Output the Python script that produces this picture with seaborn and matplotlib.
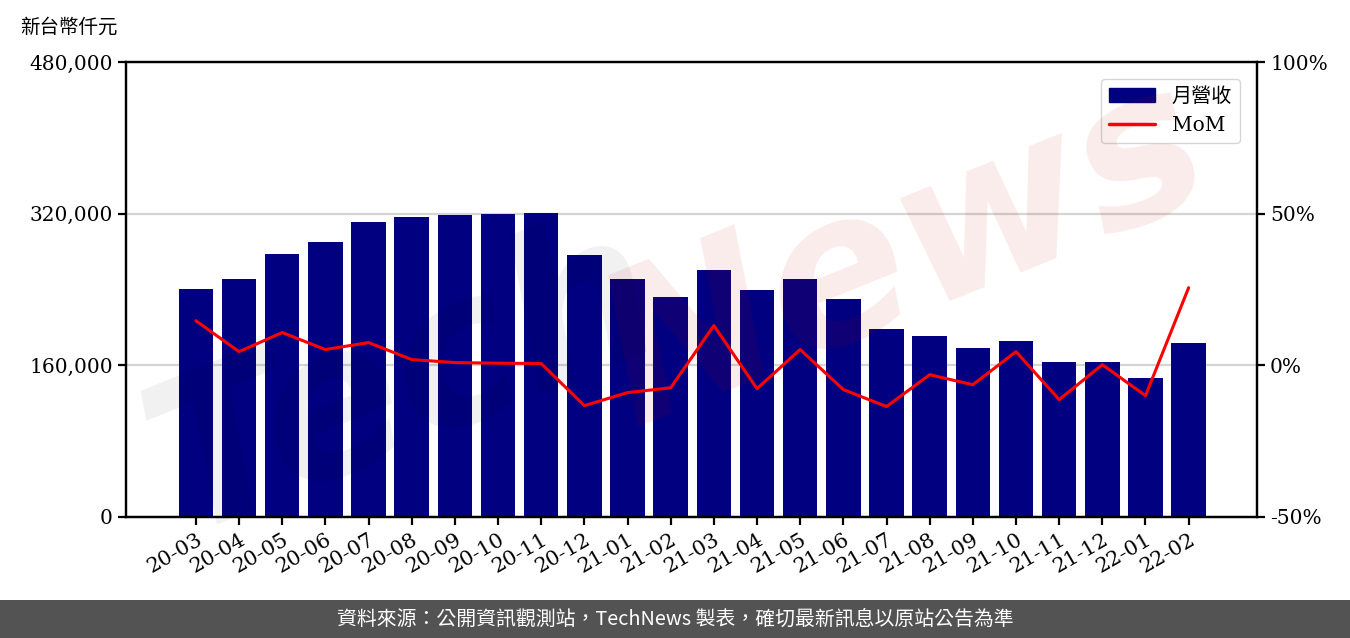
import numpy as np
import pandas as pd
import matplotlib
matplotlib.use("Agg")
import matplotlib.pyplot as plt
import seaborn as sns
from matplotlib.patches import Rectangle
from matplotlib.ticker import FuncFormatter, FixedLocator

# data
months = ['20-03', '20-04', '20-05', '20-06', '20-07', '20-08', '20-09', '20-10',
          '20-11', '20-12', '21-01', '21-02', '21-03', '21-04', '21-05', '21-06',
          '21-07', '21-08', '21-09', '21-10', '21-11', '21-12', '22-01', '22-02']
revenue = [240500, 251000, 277400, 290100, 311200, 316500, 318600, 319600,
           320700, 276400, 251000, 232100, 260600, 239500, 251000, 230000,
           198300, 190900, 178300, 185700, 163500, 163500, 146600, 183600]
mom = [14.7, 4.5, 10.8, 5.2, 7.5, 1.9, 0.9, 0.7,
       0.6, -13.3, -9.0, -7.4, 13.1, -7.7, 5.2, -8.0,
       -13.6, -3.1, -6.4, 4.5, -11.3, 0.2, -10.0, 25.6]

df = pd.DataFrame({'month': months, 'revenue': revenue, 'mom': mom})
df['pos'] = np.arange(len(df))

sns.set_style("white", {'axes.edgecolor': 'black', 'xtick.color': 'black',
                        'ytick.color': 'black', 'text.color': 'black',
                        'axes.labelcolor': 'black'})
plt.rcParams['font.family'] = ['DejaVu Serif', 'Noto Sans CJK TC']
plt.rcParams['axes.linewidth'] = 1.6

fig = plt.figure(figsize=(13.5, 6.38), dpi=100)
ax = fig.add_axes([0.0933, 0.1897, 0.8377, 0.7131])

sns.barplot(data=df, x='month', y='revenue', color='#000080', saturation=1,
            width=0.8, ax=ax, zorder=2, edgecolor='none')
ax.set_xlim(-1.62, 24.58)
ax.set_ylim(0, 480000)
ax.yaxis.set_major_locator(FixedLocator([0, 160000, 320000, 480000]))
ax.yaxis.set_major_formatter(FuncFormatter(lambda v, p: f'{int(v):,}'))
ax.grid(axis='y', color='#d4d4d4', linewidth=1.6, zorder=0)
ax.set_axisbelow(True)
ax.set_xlabel('')
ax.set_ylabel('')
ax.tick_params(axis='y', direction='out', length=6, width=1.6, labelsize=14.5,
               left=True, colors='black')
ax.tick_params(axis='x', direction='out', length=6, width=1.6, labelsize=15,
               bottom=True, colors='black')
for lab in ax.get_xticklabels():
    lab.set_rotation(30)
    lab.set_ha('right')
    lab.set_rotation_mode('anchor')

ax2 = ax.twinx()
sns.lineplot(data=df, x='pos', y='mom', color='red', linewidth=2.2, ax=ax2, zorder=3)
ax2.set_ylim(-50, 100)
ax2.yaxis.set_major_locator(FixedLocator([-50, 0, 50, 100]))
ax2.yaxis.set_major_formatter(FuncFormatter(lambda v, p: f'{int(v)}%'))
ax2.set_ylabel('')
ax2.tick_params(axis='y', direction='out', length=6, width=1.6, labelsize=14.5,
                right=True, colors='black')
for s in ax2.spines.values():
    s.set_linewidth(1.6)
    s.set_color('black')

handles = [Rectangle((0, 0), 1, 1, color='#000080'),
           plt.Line2D([0], [0], color='red', linewidth=2.5)]
leg = ax2.legend(handles, ['月營收', 'MoM'], loc='upper right', fontsize=14.5,
                 frameon=True, fancybox=True, edgecolor='#cccccc',
                 bbox_to_anchor=(0.994, 0.985), borderpad=0.4, handlelength=2.3)

fig.text(0.015, 0.958, '新台幣仟元', fontsize=14, va='center', ha='left',
         family=['Noto Sans CJK TC'])

# watermark
fig.text(0.30, 0.40, 'Tech', fontsize=150, style='italic', fontweight='bold',
         color='black', alpha=0.06, rotation=22, ha='center', va='center',
         family=['DejaVu Sans'], zorder=10)
fig.text(0.67, 0.60, 'News', fontsize=150, style='italic', fontweight='bold',
         color='#cc0000', alpha=0.08, rotation=22, ha='center', va='center',
         family=['DejaVu Sans'], zorder=10)

# footer band
fig.patches.append(Rectangle((0, 0), 1, 38 / 638, transform=fig.transFigure,
                             facecolor='#535353', edgecolor='none', zorder=0))
fig.text(0.5, 0.0298, '資料來源：公開資訊觀測站，TechNews 製表，確切最新訊息以原站公告為準',
         color='white', fontsize=14.3, ha='center', va='center',
         family=['Noto Sans CJK TC', 'DejaVu Sans'])

fig.savefig('out.png', dpi=100)
